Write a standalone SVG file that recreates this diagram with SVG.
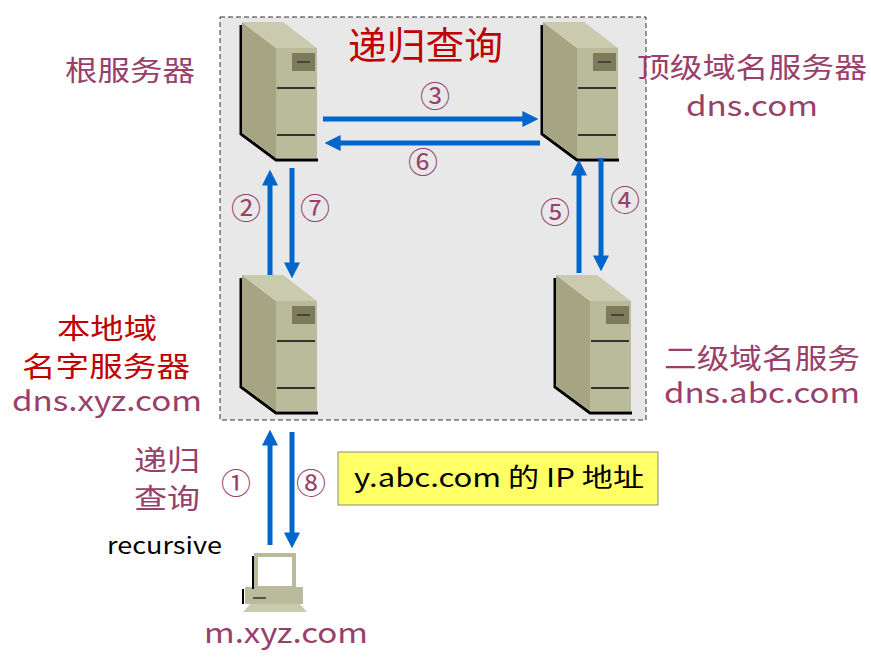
<svg xmlns="http://www.w3.org/2000/svg" xmlns:xlink="http://www.w3.org/1999/xlink" width="871" height="670" viewBox="0 0 871 670">
<style>
text{font-family:"Noto Sans CJK SC","Noto Sans",sans-serif}
.lb{fill:#98406a;font-size:28px}
.rd{fill:#c00000}
.num{fill:#98406a;font-size:30px}
.ar{stroke:#0066cc;stroke-width:5;fill:none;marker-end:url(#ah)}
</style>
<defs>
<marker id="ah" viewBox="0 0 10 10" refX="6" refY="5" markerWidth="3.2" markerHeight="3.2" orient="auto" markerUnits="strokeWidth"><path d="M0,0L10,5L0,10z" fill="#0066cc"/></marker>
<g id="srv">
<polyline points="-1,3 -1,112 34,138 76,138" fill="none" stroke="#000" stroke-width="3"/>
<polygon points="0,0 34,26 34,136 0,111" fill="#a5a584"/>
<polygon points="0,0 41,0 75,26 34,26" fill="#cacaae"/>
<rect x="34" y="26" width="41" height="110" fill="#babb9a"/>
<rect x="50" y="31" width="23" height="18" fill="#7c7c5c"/>
<line x1="55" y1="40" x2="68" y2="40" stroke="#333" stroke-width="1.5"/>
<line x1="35" y1="66" x2="73" y2="66" stroke="#333" stroke-width="2"/>
<line x1="35" y1="113" x2="73" y2="113" stroke="#333" stroke-width="2"/>
</g>
</defs>
<rect width="871" height="670" fill="#fff"/>
<rect x="220" y="17" width="426" height="403" fill="#e8e8e8" stroke="#333" stroke-dasharray="5,3"/>
<g id="root"><use xlink:href="#srv" x="242" y="22"/><text class="lb" x="65" y="81" textLength="130" lengthAdjust="spacingAndGlyphs">根服务器</text></g>
<g id="tld"><use xlink:href="#srv" x="543" y="22"/><text class="lb" x="637" y="78" textLength="230" lengthAdjust="spacingAndGlyphs">顶级域名服务器</text><text class="lb" x="686" y="116" textLength="132" lengthAdjust="spacingAndGlyphs">dns.com</text></g>
<g id="local"><use xlink:href="#srv" x="242" y="275"/><text class="lb rd" x="57" y="339" textLength="100" lengthAdjust="spacingAndGlyphs">本地域</text><text class="lb rd" x="22" y="377" textLength="168" lengthAdjust="spacingAndGlyphs">名字服务器</text><text class="lb" x="12" y="411" textLength="190" lengthAdjust="spacingAndGlyphs">dns.xyz.com</text></g>
<g id="second"><use xlink:href="#srv" x="556" y="275"/><text class="lb" x="664" y="369" textLength="196" lengthAdjust="spacingAndGlyphs">二级域名服务</text><text class="lb" x="664" y="403" textLength="196" lengthAdjust="spacingAndGlyphs">dns.abc.com</text></g>
<g id="host">
<polygon points="243,612 252,602 298,602 307,612" fill="#cacaae"/>
<rect x="245" y="587" width="58" height="17" fill="#babb9a"/>
<line x1="243" y1="589" x2="243" y2="604" stroke="#000" stroke-width="2"/>
<line x1="253" y1="598" x2="266" y2="598" stroke="#333" stroke-width="1.5"/>
<rect x="254" y="553" width="42" height="35" fill="#babb9a"/>
<line x1="253" y1="556" x2="253" y2="589" stroke="#000" stroke-width="2"/>
<rect x="258" y="557" width="34" height="29" fill="#fff"/>
<text x="204" y="643" class="lb" textLength="164" lengthAdjust="spacingAndGlyphs">m.xyz.com</text>
</g>
<g id="title"><text class="rd" x="348" y="59" font-size="38" textLength="155" lengthAdjust="spacingAndGlyphs">递归查询</text></g>
<g id="connectors">
<line class="ar" x1="323" y1="119" x2="532" y2="119"/>
<line class="ar" x1="540" y1="143" x2="331" y2="143"/>
<line class="ar" x1="270" y1="275" x2="270" y2="176"/>
<line class="ar" x1="292" y1="168" x2="292" y2="272"/>
<line class="ar" x1="579" y1="273" x2="579" y2="166"/>
<line class="ar" x1="601" y1="158" x2="601" y2="265"/>
<line class="ar" x1="270" y1="545" x2="270" y2="436"/>
<line class="ar" x1="292" y1="432" x2="292" y2="542"/>
<text class="num" x="420" y="107">③</text>
<text class="num" x="408" y="173">⑥</text>
<text class="num" x="231" y="219">②</text>
<text class="num" x="300" y="219">⑦</text>
<text class="num" x="540" y="223">⑤</text>
<text class="num" x="610" y="211">④</text>
<text class="num" x="221" y="494">①</text>
<text class="num" x="296" y="494">⑧</text>
<text class="lb" x="134" y="471" textLength="66" lengthAdjust="spacingAndGlyphs">递归</text>
<text class="lb" x="134" y="509" textLength="66" lengthAdjust="spacingAndGlyphs">查询</text>
<text x="107" y="554" font-size="23" fill="#000" textLength="115" lengthAdjust="spacingAndGlyphs">recursive</text>
</g>
<g id="note"><rect x="338" y="452" width="320" height="53" fill="#ffff66" stroke="#888"/><text x="354" y="487" font-size="26" fill="#000" textLength="290" lengthAdjust="spacingAndGlyphs">y.abc.com 的 IP 地址</text></g>
</svg>
